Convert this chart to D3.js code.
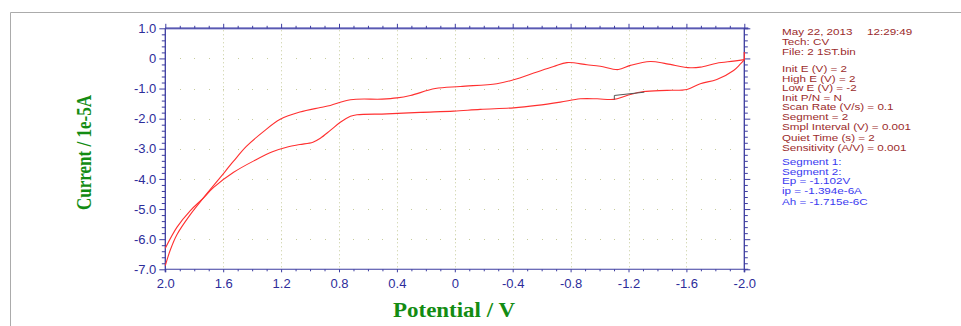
<!DOCTYPE html>
<html><head><meta charset="utf-8">
<script src="https://cdn.jsdelivr.net/npm/d3@7/dist/d3.min.js"></script>
<style>
html,body{margin:0;padding:0;background:#fff;}
svg{display:block;}
</style></head>
<body>
<svg id="c" width="961" height="326"></svg>
<script>
// ---- data ----
const xTickValues = [2.0, 1.6, 1.2, 0.8, 0.4, 0, -0.4, -0.8, -1.2, -1.6, -2.0];
const xTickLabels = ["2.0", "1.6", "1.2", "0.8", "0.4", "0", "-0.4", "-0.8", "-1.2", "-1.6", "-2.0"];
const yTickValues = [1, 0, -1, -2, -3, -4, -5, -6, -7];
const yTickLabels = ["1.0", "0", "-1.0", "-2.0", "-3.0", "-4.0", "-5.0", "-6.0", "-7.0"];

// Segment 1: scan from +2.0 V toward -2.0 V  (potential V, current 1e-5 A)
const seg1Potential = [2.0, 1.965, 1.92, 1.83, 1.74, 1.62, 1.53, 1.44, 1.32, 1.206, 1.07, 0.929, 0.86, 0.721, 0.503, 0.399, 0.307, 0.135, -0.038, -0.29, -0.406, -0.568, -0.683, -0.775, -0.913, -1.005, -1.13, -1.213, -1.351, -1.465, -1.627, -1.696, -1.81, -1.926, -2.0, -2.0];
const seg1Current   = [-6.88, -6.35, -5.85, -5.2, -4.65, -3.95, -3.42, -2.92, -2.42, -2.02, -1.78, -1.63, -1.56, -1.37, -1.35, -1.31, -1.23, -1.0, -0.93, -0.84, -0.71, -0.45, -0.27, -0.14, -0.21, -0.26, -0.37, -0.23, -0.10, -0.18, -0.31, -0.29, -0.16, -0.09, -0.04, 0.21];

// Segment 2: scan back from -2.0 V to +2.0 V
const seg2Potential = [-2.0, -1.97, -1.926, -1.81, -1.696, -1.604, -1.465, -1.304, -1.19, -1.098, -0.983, -0.867, -0.729, -0.568, -0.406, -0.176, 0.008, 0.238, 0.469, 0.676, 0.721, 0.791, 0.86, 0.929, 0.98, 1.07, 1.15, 1.26, 1.38, 1.528, 1.666, 1.74, 1.827, 1.919, 2.0];
const seg2Current   = [-0.05, -0.2, -0.40, -0.70, -0.84, -1.03, -1.06, -1.10, -1.23, -1.36, -1.34, -1.34, -1.45, -1.56, -1.64, -1.69, -1.75, -1.79, -1.84, -1.87, -1.92, -2.12, -2.39, -2.65, -2.78, -2.86, -2.93, -3.1, -3.38, -3.78, -4.28, -4.65, -5.05, -5.6, -6.3];

// Peak baseline marker (Ep = -1.102 V)
const basePotential = [-1.102, -1.102, -1.31];
const baseCurrent   = [-1.37, -1.23, -1.12];

const infoRed = ["Tech: CV", "File: 2 1ST.bin", "", "Init E (V) = 2", "High E (V) = 2", "Low E (V) = -2", "Init P/N = N", "Scan Rate (V/s) = 0.1", "Segment = 2", "Smpl Interval (V) = 0.001", "Quiet Time (s) = 2", "Sensitivity (A/V) = 0.001"];
const infoBlue = ["Segment 1:", "Segment 2:", "Ep = -1.102V", "ip = -1.394e-6A", "Ah = -1.715e-6C"];

// ---- drawing ----
const svg = d3.select("#c");
const x = d3.scaleLinear().domain([2, -2]).range([165.3, 744.3]);
const y = d3.scaleLinear().domain([-7, 1]).range([269.3, 28.3]);
const axisColor = "#3c3ca0";
const tickFont = "Liberation Sans, Arial, sans-serif";

// outer frame
svg.append("path").attr("d", "M10.5,326 V12.5 H961").attr("fill", "none").attr("stroke", "#ababab").attr("stroke-width", 1);

// grid
const minorX = d3.range(-20, 21).map(d => d / 10);
const majorXInner = xTickValues.filter(v => v !== 2 && v !== -2);
const gridColor = "#c6cc9c";
svg.append("g").selectAll("line").data(majorXInner).join("line")
  .attr("x1", d => Math.round(x(d)) + 0.5).attr("x2", d => Math.round(x(d)) + 0.5)
  .attr("y1", y(1) + 2).attr("y2", y(-7) - 2)
  .attr("stroke", gridColor).attr("stroke-width", 1).attr("stroke-dasharray", "1,3");
const gridRows = [0, -1, -2, -3, -4, -5, -6];
const dots = [];
gridRows.forEach(r => minorX.forEach(m => { if (m > -2 && m < 2) dots.push([m, r]); }));
svg.append("g").selectAll("rect").data(dots).join("rect")
  .attr("x", d => Math.round(x(d[0]))).attr("y", d => Math.round(y(d[1])))
  .attr("width", 1).attr("height", 1).attr("fill", gridColor);

// axes lines
const ax = svg.append("g");
ax.append("line").attr("x1", x(2)).attr("x2", x(-2) + 4).attr("y1", y(1)).attr("y2", y(1)).attr("stroke", "#8d8dd0").attr("stroke-width", 2.2);
ax.append("line").attr("x1", x(2)).attr("x2", x(-2) + 4).attr("y1", y(1)).attr("y2", y(1)).attr("stroke", axisColor).attr("stroke-width", 0.8);
ax.append("line").attr("x1", x(2)).attr("x2", x(-2) + 4).attr("y1", y(-7)).attr("y2", y(-7)).attr("stroke", axisColor).attr("stroke-width", 1.1);
ax.append("line").attr("x1", x(2)).attr("x2", x(2)).attr("y1", y(1)).attr("y2", y(-7) + 3).attr("stroke", axisColor).attr("stroke-width", 1.3);
ax.append("line").attr("x1", x(-2)).attr("x2", x(-2)).attr("y1", y(1)).attr("y2", y(-7) + 3).attr("stroke", axisColor).attr("stroke-width", 1.3);

const minorY = d3.range(-35, 6).map(d => d / 5).filter(v => Math.abs(v - Math.round(v)) > 1e-6);
const minorXt = minorX.filter(v => !xTickValues.some(t => Math.abs(t - v) < 1e-6));

function tickAxis(axisFn, scale, vals, size, pos, labels) {
  const a = axisFn(scale).tickValues(vals).tickSize(size).tickSizeOuter(0)
    .tickFormat(labels ? (d, i) => labels[i] : "");
  const g = svg.append("g").attr("transform", pos).call(a);
  g.select(".domain").remove();
  g.selectAll("line").attr("stroke", axisColor);
  g.selectAll("text").attr("fill", "#2d2d9a").attr("font-family", tickFont).attr("font-size", 13);
  return g;
}
// left
tickAxis(d3.axisLeft, y, yTickValues, 6, `translate(${x(2)},0)`, yTickLabels).selectAll("text").attr("x", -9);
tickAxis(d3.axisLeft, y, minorY, 3.5, `translate(${x(2)},0)`, null);
// right
tickAxis(d3.axisRight, y, yTickValues, 6, `translate(${x(-2)},0)`, null);
tickAxis(d3.axisRight, y, minorY, 3.5, `translate(${x(-2)},0)`, null);
// top
tickAxis(d3.axisTop, x, xTickValues, 4.5, `translate(0,${y(1)})`, null);
tickAxis(d3.axisTop, x, minorXt, 2.5, `translate(0,${y(1)})`, null);
// bottom
tickAxis(d3.axisBottom, x, xTickValues, 3, `translate(0,${y(-7)})`, xTickLabels).selectAll("text").attr("y", 9);
tickAxis(d3.axisBottom, x, minorXt, 2, `translate(0,${y(-7)})`, null);

// curves
const smooth = d3.line().x(d => x(d[0])).y(d => y(d[1])).curve(d3.curveCatmullRom.alpha(0.5));
const lineLin = d3.line().x(d => x(d[0])).y(d => y(d[1]));
const s1 = seg1Potential.map((p, i) => [p, seg1Current[i]]);
const s2 = seg2Potential.map((p, i) => [p, seg2Current[i]]);
const curveColor = "#ff3030";
svg.append("path").attr("d", smooth(s1.slice(0, -1)))
  .attr("fill", "none").attr("stroke", curveColor).attr("stroke-width", 1.1);
svg.append("path").attr("d", lineLin(s1.slice(-2)))
  .attr("fill", "none").attr("stroke", curveColor).attr("stroke-width", 1.3);
svg.append("path").attr("d", smooth(s2))
  .attr("fill", "none").attr("stroke", curveColor).attr("stroke-width", 1.1);
const base = basePotential.map((p, i) => [p, baseCurrent[i]]);
svg.append("path").attr("d", lineLin(base)).attr("fill", "none").attr("stroke", "#555").attr("stroke-width", 1);

// axis titles
const titleFont = "Liberation Serif, 'Times New Roman', serif";
svg.append("text").attr("x", 454).attr("y", 317).attr("text-anchor", "middle")
  .attr("font-family", titleFont).attr("font-weight", "bold").attr("font-size", 21)
  .attr("fill", "#138c13").attr("textLength", 122).attr("lengthAdjust", "spacingAndGlyphs").text("Potential / V");
svg.append("text").attr("transform", "translate(91,152.5) rotate(-90)").attr("text-anchor", "middle")
  .attr("font-family", titleFont).attr("font-weight", "bold").attr("font-size", 20)
  .attr("fill", "#138c13").attr("textLength", 115).attr("lengthAdjust", "spacingAndGlyphs").text("Current / 1e-5A");

// info panel (slightly widened glyphs like the original)
const infoFont = "Liberation Sans, Arial, sans-serif";
const red = "#9b2b2b", blue = "#3a3af0";
const sx = 1.34;
const ig = svg.append("g").attr("transform", `translate(782,0) scale(${sx},1)`)
  .attr("font-family", infoFont).attr("font-size", 8.7);
ig.append("text").attr("x", 0).attr("y", 35.5).attr("fill", red).text("May 22, 2013");
ig.append("text").attr("x", (867 - 782) / sx).attr("y", 35.5).attr("fill", red).text("12:29:49");
const redY = [45.5, 55.5, null, 72.5, 81.8, 91, 100.8, 110.5, 120, 130, 141, 151];
ig.selectAll("text.r").data(infoRed.map((t, i) => [t, redY[i]]).filter(d => d[0] !== "")).join("text")
  .attr("class", "r").attr("x", 0).attr("y", d => d[1]).attr("fill", red).text(d => d[0]);
const blueY = [165.5, 175, 184.5, 194, 205];
ig.selectAll("text.b").data(infoBlue.map((t, i) => [t, blueY[i]])).join("text")
  .attr("class", "b").attr("x", 0).attr("y", d => d[1]).attr("fill", blue).text(d => d[0]);
</script>
</body></html>
